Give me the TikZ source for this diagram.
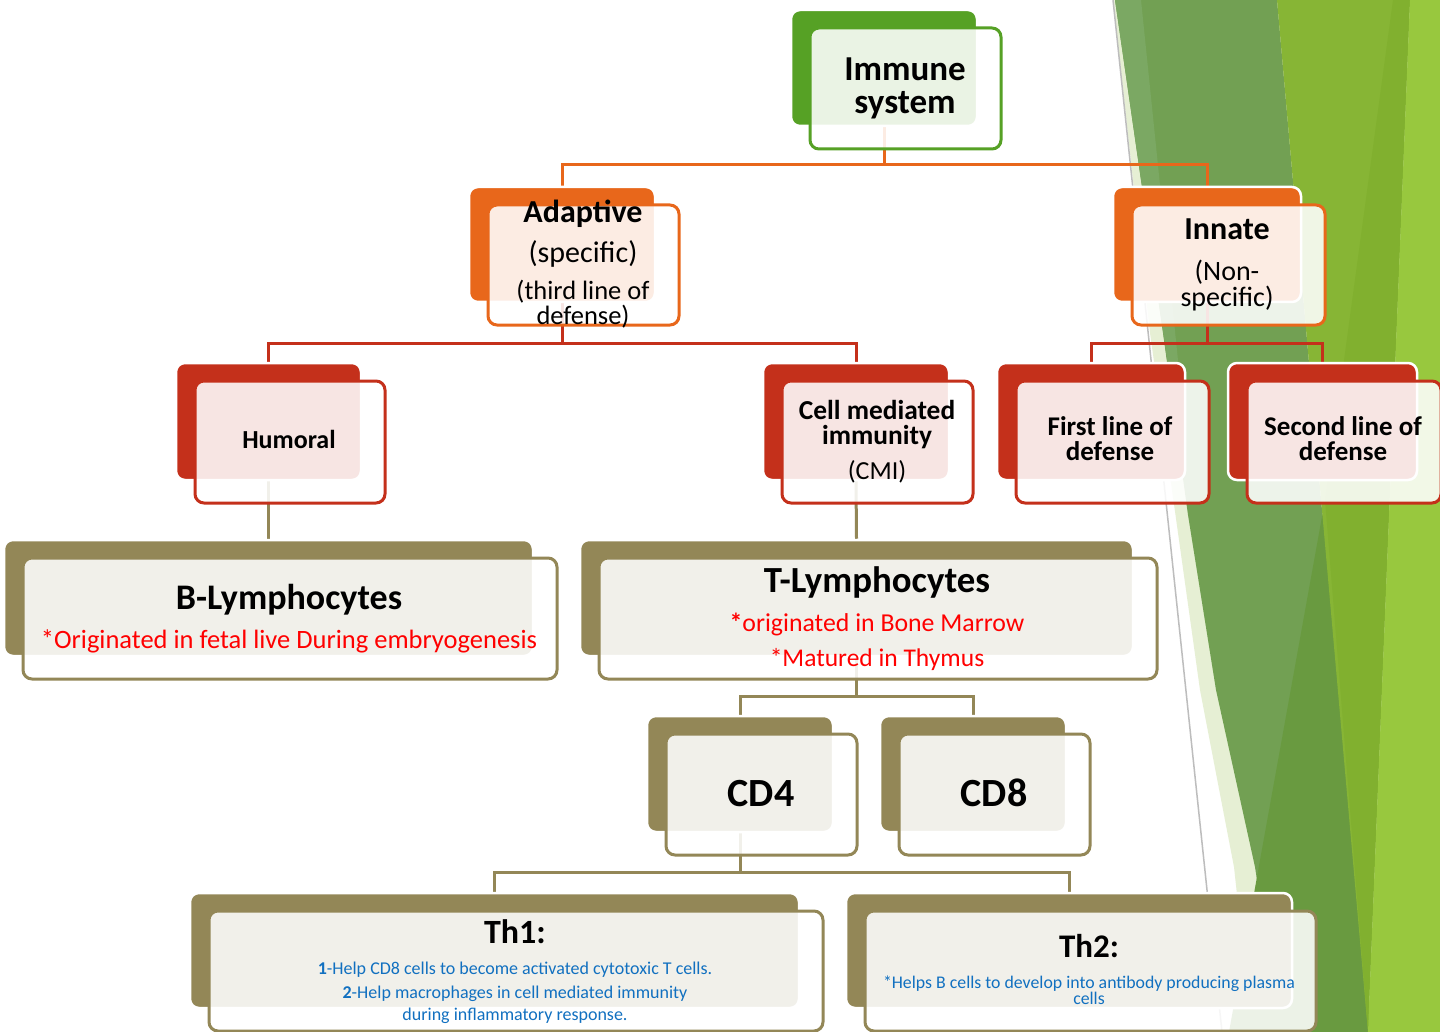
\documentclass[tikz,border=0pt]{standalone}
\usepackage{fontspec}
\setmainfont{Carlito}
\usetikzlibrary{calc}
\pgfdeclarelayer{bg}\pgfdeclarelayer{conn}
\pgfsetlayers{bg,conn,main}
\definecolor{cGreen}{HTML}{56A125}
\definecolor{cOrange}{HTML}{E8671B}
\definecolor{cRed}{HTML}{C4301B}
\definecolor{cOlive}{HTML}{938757}
\definecolor{cBlue}{HTML}{1170C0}
\definecolor{cTxtRed}{HTML}{FF0000}
\definecolor{gPale}{HTML}{E6EFD4}
\definecolor{gMuted}{HTML}{72A053}
\definecolor{gMutedL}{HTML}{7BA863}
\definecolor{gDark}{HTML}{699A40}
\definecolor{gBright}{HTML}{87B535}
\definecolor{gBrightD}{HTML}{81B02F}
\definecolor{gLime}{HTML}{98C83E}
\definecolor{gLine}{HTML}{BDBDBD}
\newcommand\fsz[1]{\fontsize{#1}{#1}\selectfont}
\tikzset{
  backbox/.style={rounded corners=9pt, draw=white, line width=2.5pt, fill=#1, inner sep=0pt},
  frontbox/.style={rounded corners=9pt, draw=#1, line width=3pt, fill=white, fill opacity=0.88, inner sep=0pt},
  conn/.style={draw=#1, line width=3pt},
  txt/.style={inner sep=0pt, anchor=base, text=black},
}
\newcommand\tkbox[6]{%
  \pgfmathsetmacro\bcx{(#3+#5)/2}\pgfmathsetmacro\bcy{(#4+#6)/2}%
  \pgfmathsetmacro\bw{#5-#3}\pgfmathsetmacro\bh{#6-#4}%
  \node[backbox=#2, minimum width=\bw pt, minimum height=\bh pt] (#1) at (\bcx,\bcy) {};
  \node[frontbox=#2, minimum width=\bw pt+5pt, minimum height=\bh pt+5pt] (#1f) at (\bcx+21.5,\bcy+20.5) {};
}
\begin{document}
\begin{tikzpicture}[x=1pt,y=-1pt]
\useasboundingbox (0,0) rectangle (1440,1032);
\begin{pgfonlayer}{bg}
  \fill[white] (0,0) rectangle (1440,1032);
  \fill[gPale] (1113,0) -- (1150,333) -- (1200,690) -- (1234,867) -- (1252,1032) -- (1440,1032) -- (1440,0) -- cycle;
  \fill[gMuted] (1115,0) -- (1277,0) -- (1368,1032) -- (1280,1032) -- (1255,867) -- (1216,690) -- (1188,515) -- (1163,333) -- cycle;
  \fill[gMutedL] (1115,0) -- (1141,0) -- (1180,380) -- (1170,380) -- cycle;
  \fill[gDark] (1325,500) -- (1229,1032) -- (1372,1032) -- cycle;
  \fill[gBright] (1277,0) -- (1410,0) -- (1368,1032) -- cycle;
  \fill[gBrightD] (1393,0) -- (1410,0) -- (1368,1032) -- (1325,500) -- cycle;
  \fill[gLime] (1410,0) -- (1440,0) -- (1440,1032) -- (1368,1032) -- cycle;
  \draw[gLine, line width=1.5pt] (1113,0) -- (1222,1032);
\end{pgfonlayer}

\tkbox{is}{cGreen}{791}{10}{977}{126}
\tkbox{ad}{cOrange}{469}{187}{655}{302}
\tkbox{in}{cOrange}{1113}{187}{1301}{302}
\tkbox{hu}{cRed}{176}{363}{361}{480}
\tkbox{cmi}{cRed}{763}{363}{949}{480}
\tkbox{fl}{cRed}{997}{363}{1185}{480}
\tkbox{sl}{cRed}{1228}{363}{1417}{480}
\tkbox{bl}{cOlive}{4}{540}{533}{656}
\tkbox{tl}{cOlive}{580}{540}{1133}{656}
\tkbox{cdf}{cOlive}{647}{716}{833}{832}
\tkbox{cde}{cOlive}{880}{716}{1066}{832}
\tkbox{tha}{cOlive}{190}{893}{799}{1008}
\tkbox{thb}{cOlive}{846}{893}{1292}{1008}

% texts (multi-line nodes: base anchor = baseline of last line)
\node[txt, align=center, font=\fontsize{35}{33}\selectfont\bfseries] (is-t) at (905,114) {Immune\\system};

\node[txt, font=\fsz{32}\bfseries] (ad-t1) at (583,223) {Adaptive};
\node[txt, font=\fsz{30}] (ad-t2) at (583,263) {(specific)};
\node[txt, align=center, font=\fontsize{26.5}{24.5}\selectfont] (ad-t3) at (583,324) {(third line of\\defense)};

\node[txt, font=\fsz{32}\bfseries] (in-t1) at (1227,240) {Innate};
\node[txt, align=center, font=\fontsize{28}{26}\selectfont] (in-t2) at (1227,307) {(Non-\\specific)};

\node[txt, font=\fsz{26}\bfseries] (hu-t1) at (289,448) {Humoral};

\node[txt, align=center, font=\fontsize{27.4}{25}\selectfont\bfseries] (cmi-t1) at (877,444) {Cell mediated\\immunity};
\node[txt, font=\fsz{26}] (cmi-t3) at (877,479) {(CMI)};

\node[txt, align=center, font=\fontsize{27}{25}\selectfont\bfseries] (fl-t) at (1110,460) {First line of\\defense};
\node[txt, align=center, font=\fontsize{27}{25}\selectfont\bfseries] (sl-t) at (1343,460) {Second line of\\defense};

\node[txt, font=\fsz{36}\bfseries] (bl-t1) at (289,609) {B-Lymphocytes};
\node[txt, font=\fsz{26.5}, text=cTxtRed] (bl-t2) at (289,648) {*Originated in fetal live During embryogenesis};

\node[txt, font=\fsz{36.8}\bfseries] (tl-t1) at (877,592) {T-Lymphocytes};
\node[txt, font=\fsz{25.8}, text=cTxtRed] (tl-t2) at (877,631) {\textbf{*}originated in Bone Marrow};
\node[txt, font=\fsz{25.5}, text=cTxtRed] (tl-t3) at (877,666) {*Matured in Thymus};

\node[txt, font=\fsz{40}\bfseries] (cdf-t1) at (761,806) {CD4};
\node[txt, font=\fsz{40}\bfseries] (cde-t1) at (994,806) {CD8};

\node[txt, font=\fsz{34}\bfseries] (tha-t1) at (515,943) {Th1:};
\node[txt, font=\fsz{18}, text=cBlue] (tha-t2) at (515,974) {\textbf{1}-Help CD8 cells to become activated cytotoxic T cells.};
\node[txt, font=\fsz{18}, text=cBlue] (tha-t3) at (515,998) {\textbf{2}-Help macrophages in cell mediated immunity};
\node[txt, font=\fsz{18}, text=cBlue] (tha-t4) at (515,1020) {during inflammatory response.};

\node[txt, font=\fsz{33}\bfseries] (thb-t1) at (1089,957) {Th2:};
\node[txt, align=center, font=\fontsize{17.8}{15.5}\selectfont, text=cBlue] (thb-t2) at (1089,1004) {*Helps B cells to develop into antibody producing plasma\\cells};

% connectors
\coordinate (h1) at (0,165);
\coordinate (h2) at (0,343);
\coordinate (h3) at (0,696);
\coordinate (h4) at (0,872);
\begin{pgfonlayer}{conn}
  \draw[conn=cOrange] (is.south) -- (is.south |- h1) -| (ad.north);
  \draw[conn=cOrange] (is.south |- h1) -| (in.north);
  \draw[conn=cRed] (ad.south) -- (ad.south |- h2) -| (hu.north);
  \draw[conn=cRed] (ad.south |- h2) -| (cmi.north);
  \draw[conn=cRed] (in.south) -- (in.south |- h2) -| (fl.north);
  \draw[conn=cRed] (in.south |- h2) -| (sl.north);
  \draw[conn=cOlive] (hu.south) -- (bl.north);
  \draw[conn=cOlive] (cmi.south) -- (tl.north);
  \draw[conn=cOlive] (tl.south) -- (tl.south |- h3) -| (cdf.north);
  \draw[conn=cOlive] (tl.south |- h3) -| (cde.north);
  \draw[conn=cOlive] (cdf.south) -- (cdf.south |- h4) -| (tha.north);
  \draw[conn=cOlive] (cdf.south |- h4) -| (thb.north);
\end{pgfonlayer}
\end{tikzpicture}
\end{document}
